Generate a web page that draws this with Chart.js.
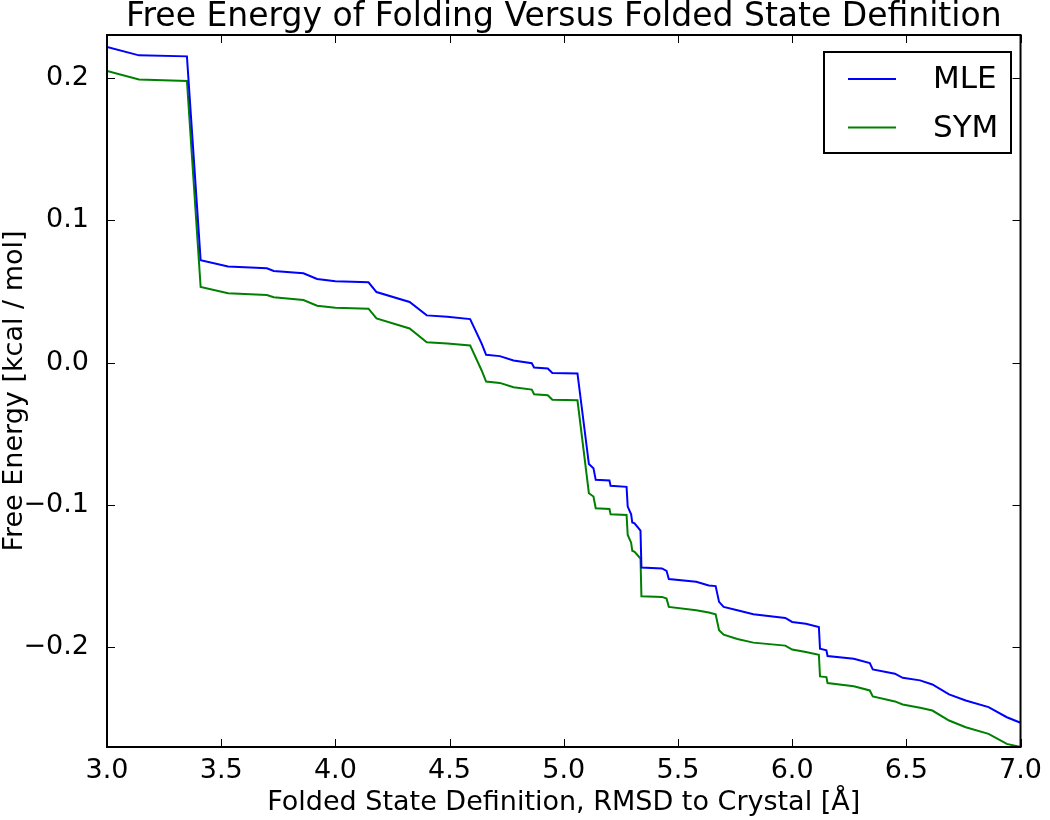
<!DOCTYPE html>
<html lang="en">
<head>
    <meta charset="UTF-8" />
    <title>Free Energy of Folding Versus Folded State Definition</title>
    <script src="https://cdn.jsdelivr.net/npm/chart.js"></script>
    <style>
        html, body { margin: 0; padding: 0; background: #fff; }
        #wrap { width: 1050px; height: 820px; }
    </style>
</head>
<body>
<div id="wrap"><canvas id="feChart"></canvas></div>
<script>
    // RMSD cutoffs (Å)
    const rmsd = [3.00, 3.14, 3.35, 3.41, 3.53, 3.70, 3.73, 3.86, 3.92, 4.00,
        4.145, 4.18, 4.325, 4.40, 4.49, 4.59, 4.64, 4.66, 4.72, 4.78,
        4.86, 4.87, 4.93, 4.95, 5.06, 5.11, 5.13, 5.14, 5.20, 5.205,
        5.275, 5.28, 5.295, 5.30, 5.31, 5.336, 5.34, 5.43, 5.45, 5.46,
        5.58, 5.635, 5.665, 5.68, 5.70, 5.76, 5.83, 5.97, 6.00, 6.06,
        6.117, 6.122, 6.15, 6.155, 6.27, 6.34, 6.353, 6.45, 6.484, 6.56,
        6.614, 6.687, 6.76, 6.86, 6.94, 7.00];

    const mle = [0.2216, 0.2157, 0.2150, 0.0718, 0.0674, 0.0662, 0.0643, 0.0627, 0.0587, 0.0570,
        0.0563, 0.0495, 0.0425, 0.0331, 0.0322, 0.0305, 0.0134, 0.0054, 0.0045, 0.0014,
        -0.0005, -0.0035, -0.0042, -0.0073, -0.0077, -0.0713, -0.0742, -0.0824, -0.0829, -0.0866,
        -0.0873, -0.1012, -0.1066, -0.1124, -0.1129, -0.1181, -0.1439, -0.1446, -0.1463, -0.1521,
        -0.1540, -0.1566, -0.1570, -0.1681, -0.1716, -0.1739, -0.1768, -0.1794, -0.1822, -0.1834,
        -0.1857, -0.2009, -0.2021, -0.2061, -0.2080, -0.2111, -0.2155, -0.2185, -0.2214, -0.2232,
        -0.2261, -0.2331, -0.2373, -0.2420, -0.2491, -0.2530];

    const sym = [0.2047, 0.1988, 0.1977, 0.0530, 0.0486, 0.0474, 0.0458, 0.0439, 0.0399, 0.0385,
        0.0378, 0.0310, 0.0239, 0.0143, 0.0134, 0.0120, -0.0054, -0.0134, -0.0143, -0.0174,
        -0.0190, -0.0223, -0.0230, -0.0261, -0.0265, -0.0918, -0.0941, -0.1023, -0.1028, -0.1066,
        -0.1070, -0.1211, -0.1265, -0.1322, -0.1329, -0.1376, -0.1641, -0.1646, -0.1657, -0.1716,
        -0.1739, -0.1755, -0.1768, -0.1880, -0.1911, -0.1942, -0.1967, -0.1988, -0.2016, -0.2033,
        -0.2052, -0.2204, -0.2209, -0.2251, -0.2273, -0.2303, -0.2345, -0.2380, -0.2401, -0.2425,
        -0.2444, -0.2514, -0.2561, -0.2608, -0.2678, -0.2700];

    const xTicks = [3.0, 3.5, 4.0, 4.5, 5.0, 5.5, 6.0, 6.5, 7.0];
    const yTicks = [-0.2, -0.1, 0.0, 0.1, 0.2];

    const FONT = "'DejaVu Sans', 'Liberation Sans', sans-serif";
    const titleText = 'Free Energy of Folding Versus Folded State Definition';

    const toPoints = (ys) => rmsd.map((x, i) => ({ x: x, y: ys[i] }));
    const fmt = (v) => {
        const s = Math.abs(v).toFixed(1);
        return v < -1e-9 ? '\u2212' + s : s;
    };

    // frame, inward ticks on all four sides, title and legend (matplotlib look)
    const mplDecor = {
        id: 'mplDecor',
        afterDraw(chart) {
            const ctx = chart.ctx;
            const a = chart.chartArea;
            const xs = chart.scales.x, ys = chart.scales.y;
            const tl = 8;
            ctx.save();
            ctx.strokeStyle = '#000';
            ctx.lineWidth = 1;
            ctx.beginPath();
            xTicks.forEach(v => {
                const px = Math.round(xs.getPixelForValue(v)) + 0.5;
                ctx.moveTo(px, a.bottom); ctx.lineTo(px, a.bottom - tl);
                ctx.moveTo(px, a.top); ctx.lineTo(px, a.top + tl);
            });
            yTicks.forEach(v => {
                const py = Math.round(ys.getPixelForValue(v)) + 0.5;
                ctx.moveTo(a.left, py); ctx.lineTo(a.left + tl, py);
                ctx.moveTo(a.right, py); ctx.lineTo(a.right - tl, py);
            });
            ctx.stroke();

            ctx.lineWidth = 2;
            ctx.strokeRect(a.left, a.top, a.right - a.left, a.bottom - a.top);

            // title
            ctx.fillStyle = '#000';
            ctx.font = '33px ' + FONT;
            ctx.textAlign = 'center';
            ctx.textBaseline = 'alphabetic';
            ctx.fillText(titleText, (a.left + a.right) / 2, 26);

            // legend
            const bx = 824, by = 52, bw = 187, bh = 101;
            ctx.fillStyle = '#fff';
            ctx.fillRect(bx, by, bw, bh);
            ctx.lineWidth = 2;
            ctx.strokeStyle = '#000';
            ctx.strokeRect(bx, by, bw, bh);
            ctx.font = '31px ' + FONT;
            ctx.textAlign = 'left';
            ctx.textBaseline = 'middle';
            chart.data.datasets.forEach((ds, i) => {
                const y = 79 + i * 48.5;
                ctx.strokeStyle = ds.borderColor;
                ctx.lineWidth = 2;
                ctx.beginPath();
                ctx.moveTo(848, y); ctx.lineTo(896, y);
                ctx.stroke();
                ctx.fillStyle = '#000';
                ctx.fillText(ds.label, 933, y + 1);
            });
            ctx.restore();
        }
    };

    new Chart(document.getElementById('feChart'), {
        type: 'line',
        data: {
            datasets: [
                { label: 'MLE', data: toPoints(mle), borderColor: '#0000ff', borderWidth: 2,
                  pointRadius: 0, tension: 0, fill: false },
                { label: 'SYM', data: toPoints(sym), borderColor: '#008000', borderWidth: 2,
                  pointRadius: 0, tension: 0, fill: false }
            ]
        },
        options: {
            responsive: true,
            maintainAspectRatio: false,
            animation: false,
            layout: { padding: { top: 35, right: 25, left: 0, bottom: 0 } },
            plugins: { legend: { display: false }, title: { display: false }, tooltip: { enabled: false } },
            scales: {
                x: {
                    type: 'linear', min: 3, max: 7,
                    afterBuildTicks: (s) => { s.ticks = xTicks.map(v => ({ value: v })); },
                    afterFit: (s) => { s.height = 73; },
                    grid: { display: false, drawTicks: false },
                    border: { display: false },
                    ticks: { color: '#000', padding: 8, font: { family: FONT, size: 27 },
                             maxRotation: 0, callback: (v) => fmt(v) },
                    title: { display: true, text: 'Folded State Definition, RMSD to Crystal [\u00c5]',
                             color: '#000', font: { family: FONT, size: 27, lineHeight: 1.1 },
                             padding: { top: 0, bottom: 2 } }
                },
                y: {
                    type: 'linear', min: -0.27, max: 0.23,
                    afterBuildTicks: (s) => { s.ticks = yTicks.map(v => ({ value: v })); },
                    afterFit: (s) => { s.width = 107; },
                    grid: { display: false, drawTicks: false },
                    border: { display: false },
                    ticks: { color: '#000', padding: 18, font: { family: FONT, size: 27 },
                             callback: (v) => fmt(v) },
                    title: { display: true, text: 'Free Energy [kcal / mol]',
                             color: '#000', font: { family: FONT, size: 27, lineHeight: 1.1 },
                             padding: { top: 0, bottom: 0 } }
                }
            }
        },
        plugins: [mplDecor]
    });
</script>
</body>
</html>
